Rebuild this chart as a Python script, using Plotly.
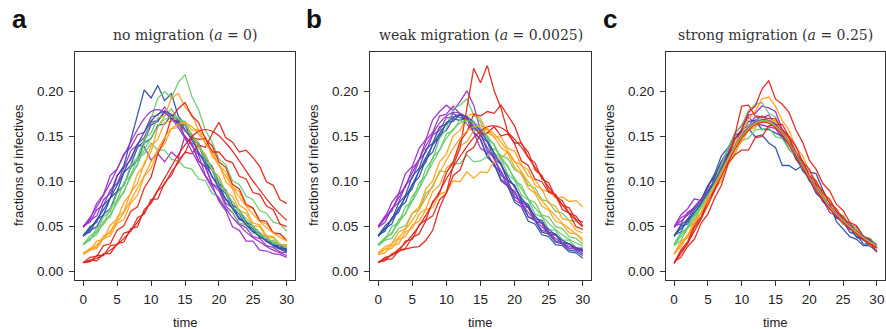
import plotly.graph_objects as go

T = list(range(31))

COLORS = {"purple": "#9a33c8", "blue": "#3152a8", "green": "#6acb70", "orange": "#ffa31c", "red": "#e2271f"}
ORDER = ["purple", "blue", "green", "orange", "red"]

PANEL_TITLES = ["no migration (<i>a</i> = 0)", "weak migration (<i>a</i> = 0.0025)", "strong migration (<i>a</i> = 0.25)"]
PANEL_LETTERS = ["a", "b", "c"]
X_TICKS = [0, 5, 10, 15, 20, 25, 30]
Y_TICKS = [0.00, 0.05, 0.10, 0.15, 0.20]

# ---------------- panel a: no migration ----------------
A_PURPLE_SMOOTH = [0.050,0.060,0.072,0.085,0.099,0.114,0.129,0.144,0.158,0.170,0.178,0.180,0.177,0.170,0.160,0.148,0.134,0.120,0.106,0.093,0.081,0.070,0.060,0.052,0.044,0.038,0.033,0.028,0.024,0.021,0.018]
A_BLUE_SMOOTH = [0.040,0.048,0.058,0.069,0.082,0.096,0.111,0.126,0.141,0.155,0.167,0.175,0.178,0.175,0.168,0.158,0.146,0.133,0.119,0.106,0.093,0.081,0.070,0.060,0.052,0.045,0.039,0.034,0.029,0.025,0.022]
A_GREEN_SMOOTH = [0.030,0.036,0.044,0.053,0.064,0.076,0.090,0.105,0.120,0.135,0.149,0.161,0.169,0.172,0.170,0.163,0.153,0.141,0.128,0.115,0.102,0.089,0.078,0.068,0.059,0.051,0.044,0.038,0.033,0.030,0.027]
A_ORANGE_SMOOTH = [0.020,0.024,0.030,0.037,0.045,0.055,0.066,0.079,0.093,0.107,0.122,0.136,0.149,0.159,0.164,0.165,0.161,0.153,0.143,0.131,0.118,0.106,0.094,0.083,0.073,0.064,0.056,0.049,0.043,0.038,0.034]
A_RED_SMOOTH = [0.010,0.012,0.015,0.019,0.024,0.030,0.037,0.045,0.055,0.066,0.078,0.091,0.104,0.117,0.130,0.141,0.150,0.156,0.158,0.156,0.151,0.143,0.134,0.123,0.112,0.101,0.091,0.081,0.072,0.064,0.057]

A_PURPLE_RUNS = [
    [0.050,0.058,0.076,0.086,0.107,0.114,0.131,0.138,0.152,0.155,0.172,0.174,0.183,0.171,0.167,0.149,0.142,0.123,0.117,0.098,0.093,0.076,0.071,0.058,0.055,0.044,0.042,0.033,0.031,0.025,0.024],
    [0.049,0.057,0.062,0.080,0.087,0.107,0.115,0.134,0.141,0.139,0.124,0.131,0.122,0.133,0.126,0.151,0.140,0.130,0.107,0.096,0.078,0.068,0.050,0.046,0.034,0.034,0.024,0.023,0.020,0.019,0.016],
    [0.051,0.055,0.069,0.074,0.091,0.098,0.116,0.124,0.142,0.149,0.166,0.168,0.177,0.170,0.165,0.150,0.143,0.123,0.116,0.097,0.090,0.073,0.066,0.053,0.049,0.039,0.037,0.029,0.027,0.022,0.021],
]
A_BLUE_RUNS = [
    [0.040,0.050,0.055,0.074,0.082,0.106,0.118,0.146,0.175,0.202,0.193,0.207,0.190,0.198,0.173,0.163,0.148,0.141,0.121,0.113,0.094,0.087,0.070,0.064,0.052,0.048,0.038,0.036,0.029,0.027,0.023],
    [0.041,0.044,0.058,0.063,0.082,0.089,0.110,0.118,0.138,0.145,0.163,0.167,0.179,0.169,0.166,0.156,0.152,0.131,0.124,0.105,0.097,0.080,0.074,0.058,0.056,0.044,0.043,0.034,0.032,0.026,0.026],
    [0.039,0.046,0.050,0.064,0.070,0.089,0.096,0.116,0.124,0.143,0.148,0.163,0.164,0.174,0.163,0.163,0.149,0.143,0.125,0.117,0.098,0.091,0.074,0.069,0.055,0.051,0.040,0.039,0.030,0.029,0.024],
]
A_GREEN_RUNS = [
    [0.030,0.037,0.041,0.056,0.061,0.080,0.088,0.108,0.118,0.142,0.170,0.193,0.200,0.193,0.210,0.219,0.195,0.180,0.157,0.144,0.125,0.119,0.101,0.097,0.084,0.080,0.068,0.065,0.055,0.053,0.045],
    [0.031,0.035,0.049,0.053,0.071,0.079,0.099,0.107,0.126,0.131,0.143,0.135,0.135,0.125,0.123,0.116,0.114,0.103,0.101,0.087,0.083,0.070,0.066,0.054,0.052,0.043,0.042,0.034,0.035,0.029,0.030],
    [0.030,0.040,0.045,0.061,0.067,0.087,0.096,0.118,0.127,0.148,0.154,0.171,0.173,0.181,0.169,0.167,0.149,0.142,0.123,0.115,0.095,0.089,0.071,0.067,0.053,0.050,0.040,0.039,0.031,0.031,0.027],
]
A_ORANGE_RUNS = [
    [0.020,0.026,0.027,0.040,0.043,0.060,0.067,0.088,0.098,0.121,0.133,0.161,0.173,0.193,0.198,0.183,0.175,0.157,0.150,0.128,0.120,0.100,0.092,0.074,0.069,0.054,0.052,0.040,0.039,0.030,0.030],
    [0.021,0.024,0.034,0.036,0.052,0.058,0.077,0.087,0.109,0.118,0.140,0.147,0.166,0.167,0.171,0.157,0.153,0.137,0.131,0.113,0.106,0.088,0.084,0.068,0.065,0.051,0.050,0.038,0.038,0.030,0.029],
    [0.019,0.024,0.026,0.037,0.040,0.054,0.058,0.076,0.085,0.106,0.115,0.134,0.142,0.159,0.160,0.167,0.157,0.158,0.142,0.135,0.118,0.111,0.094,0.089,0.073,0.070,0.056,0.053,0.043,0.042,0.036],
]
A_RED_RUNS = [
    [0.010,0.013,0.012,0.020,0.020,0.031,0.033,0.048,0.050,0.069,0.076,0.090,0.097,0.111,0.121,0.133,0.131,0.141,0.138,0.153,0.166,0.149,0.144,0.133,0.135,0.127,0.117,0.100,0.096,0.080,0.076],
    [0.010,0.011,0.018,0.018,0.029,0.030,0.043,0.045,0.060,0.064,0.080,0.081,0.099,0.107,0.124,0.132,0.149,0.147,0.148,0.133,0.133,0.124,0.121,0.106,0.103,0.088,0.086,0.073,0.069,0.053,0.050],
    [0.010,0.016,0.017,0.029,0.031,0.046,0.051,0.067,0.072,0.093,0.105,0.131,0.147,0.171,0.181,0.188,0.173,0.166,0.147,0.140,0.122,0.116,0.097,0.092,0.075,0.071,0.057,0.056,0.043,0.042,0.034],
]

# ---------------- panel b: weak migration ----------------
B_PURPLE_SMOOTH = [0.050,0.059,0.070,0.082,0.096,0.110,0.125,0.140,0.153,0.165,0.173,0.177,0.176,0.171,0.162,0.151,0.138,0.125,0.112,0.099,0.087,0.076,0.066,0.057,0.050,0.043,0.037,0.032,0.028,0.025,0.022]
B_BLUE_SMOOTH = [0.040,0.048,0.058,0.070,0.083,0.097,0.112,0.127,0.141,0.154,0.164,0.171,0.174,0.172,0.166,0.156,0.145,0.132,0.119,0.106,0.094,0.082,0.072,0.062,0.054,0.047,0.041,0.035,0.031,0.027,0.024]
B_GREEN_SMOOTH = [0.030,0.036,0.044,0.054,0.065,0.078,0.092,0.107,0.121,0.135,0.148,0.158,0.165,0.168,0.166,0.160,0.151,0.140,0.128,0.116,0.104,0.092,0.081,0.071,0.062,0.054,0.047,0.041,0.036,0.032,0.029]
B_ORANGE_SMOOTH = [0.020,0.025,0.031,0.038,0.047,0.057,0.069,0.082,0.096,0.110,0.124,0.137,0.148,0.156,0.161,0.162,0.159,0.153,0.144,0.134,0.123,0.111,0.100,0.089,0.079,0.070,0.062,0.054,0.048,0.042,0.037]
B_RED_SMOOTH = [0.010,0.014,0.019,0.025,0.032,0.041,0.051,0.063,0.076,0.089,0.103,0.116,0.128,0.139,0.149,0.156,0.161,0.162,0.160,0.155,0.147,0.138,0.127,0.116,0.105,0.094,0.084,0.074,0.065,0.057,0.050]

B_PURPLE_RUNS = [
    [0.051,0.060,0.077,0.087,0.109,0.117,0.137,0.147,0.169,0.178,0.185,0.179,0.189,0.201,0.185,0.157,0.149,0.129,0.121,0.102,0.096,0.078,0.072,0.057,0.054,0.041,0.041,0.032,0.031,0.025,0.024],
    [0.050,0.062,0.067,0.086,0.094,0.115,0.124,0.146,0.155,0.173,0.175,0.184,0.175,0.172,0.155,0.147,0.128,0.120,0.103,0.097,0.080,0.075,0.061,0.057,0.046,0.044,0.034,0.032,0.026,0.025,0.020],
    [0.049,0.055,0.070,0.077,0.096,0.104,0.124,0.133,0.152,0.157,0.171,0.172,0.175,0.164,0.155,0.137,0.132,0.117,0.111,0.094,0.090,0.074,0.071,0.056,0.054,0.042,0.041,0.032,0.031,0.026,0.026],
]
B_BLUE_RUNS = [
    [0.040,0.051,0.058,0.076,0.085,0.106,0.115,0.136,0.143,0.161,0.164,0.176,0.171,0.170,0.155,0.147,0.127,0.120,0.101,0.095,0.077,0.072,0.056,0.053,0.041,0.039,0.030,0.029,0.022,0.021,0.015],
    [0.041,0.045,0.060,0.066,0.084,0.092,0.113,0.122,0.142,0.149,0.166,0.167,0.175,0.168,0.167,0.151,0.144,0.126,0.119,0.101,0.096,0.079,0.075,0.059,0.057,0.044,0.042,0.032,0.031,0.024,0.024],
    [0.039,0.048,0.053,0.071,0.077,0.097,0.105,0.125,0.133,0.152,0.157,0.170,0.168,0.172,0.159,0.154,0.134,0.127,0.107,0.101,0.083,0.078,0.061,0.057,0.044,0.042,0.033,0.031,0.024,0.023,0.018],
]
B_GREEN_RUNS = [
    [0.030,0.038,0.042,0.058,0.064,0.084,0.093,0.115,0.125,0.148,0.159,0.181,0.185,0.192,0.174,0.167,0.148,0.142,0.124,0.118,0.101,0.096,0.080,0.077,0.063,0.061,0.050,0.048,0.039,0.037,0.031],
    [0.029,0.035,0.037,0.048,0.051,0.065,0.069,0.087,0.094,0.112,0.111,0.120,0.120,0.130,0.122,0.123,0.128,0.137,0.129,0.126,0.113,0.110,0.096,0.093,0.080,0.078,0.067,0.065,0.057,0.056,0.050],
    [0.031,0.036,0.050,0.055,0.072,0.079,0.099,0.107,0.127,0.135,0.153,0.157,0.169,0.164,0.166,0.153,0.149,0.132,0.126,0.108,0.102,0.085,0.080,0.064,0.061,0.047,0.046,0.035,0.035,0.027,0.027],
]
B_ORANGE_RUNS = [
    [0.020,0.025,0.026,0.036,0.039,0.052,0.056,0.069,0.071,0.086,0.089,0.101,0.100,0.111,0.104,0.111,0.110,0.123,0.126,0.133,0.122,0.119,0.106,0.102,0.091,0.089,0.082,0.083,0.078,0.079,0.072],
    [0.021,0.028,0.031,0.044,0.048,0.065,0.072,0.092,0.101,0.122,0.131,0.151,0.157,0.173,0.176,0.170,0.155,0.150,0.138,0.132,0.116,0.108,0.093,0.087,0.073,0.068,0.056,0.053,0.043,0.042,0.034],
    [0.019,0.021,0.029,0.031,0.044,0.048,0.064,0.070,0.089,0.096,0.115,0.122,0.140,0.144,0.157,0.155,0.159,0.149,0.150,0.137,0.134,0.118,0.113,0.096,0.092,0.076,0.073,0.059,0.057,0.046,0.043],
]
B_RED_RUNS = [
    [0.010,0.016,0.018,0.023,0.025,0.027,0.028,0.035,0.046,0.071,0.088,0.118,0.137,0.183,0.226,0.210,0.229,0.201,0.182,0.155,0.142,0.123,0.118,0.103,0.100,0.088,0.086,0.074,0.071,0.058,0.055],
    [0.011,0.012,0.020,0.022,0.034,0.036,0.052,0.058,0.078,0.087,0.110,0.122,0.145,0.155,0.175,0.173,0.178,0.176,0.185,0.173,0.162,0.142,0.133,0.113,0.107,0.090,0.085,0.069,0.065,0.050,0.047],
    [0.010,0.014,0.014,0.023,0.026,0.038,0.042,0.057,0.062,0.080,0.087,0.107,0.113,0.133,0.138,0.153,0.154,0.161,0.151,0.153,0.143,0.143,0.127,0.121,0.103,0.099,0.083,0.079,0.065,0.062,0.051],
]

# ---------------- panel c: strong migration ----------------
C_PURPLE_SMOOTH = [0.050,0.056,0.063,0.071,0.080,0.090,0.101,0.114,0.127,0.139,0.151,0.160,0.166,0.169,0.168,0.163,0.155,0.144,0.132,0.119,0.106,0.094,0.083,0.073,0.065,0.058,0.051,0.045,0.039,0.034,0.030]
C_BLUE_SMOOTH = [0.040,0.048,0.056,0.066,0.076,0.088,0.100,0.114,0.127,0.139,0.150,0.159,0.165,0.168,0.167,0.162,0.154,0.143,0.131,0.118,0.105,0.093,0.082,0.072,0.064,0.057,0.050,0.044,0.038,0.033,0.029]
C_GREEN_SMOOTH = [0.030,0.039,0.049,0.060,0.072,0.085,0.098,0.112,0.126,0.139,0.150,0.159,0.165,0.168,0.167,0.162,0.154,0.143,0.131,0.118,0.105,0.093,0.082,0.072,0.064,0.057,0.050,0.044,0.038,0.033,0.029]
C_ORANGE_SMOOTH = [0.020,0.030,0.041,0.053,0.066,0.080,0.095,0.110,0.125,0.138,0.149,0.158,0.164,0.167,0.166,0.161,0.153,0.142,0.130,0.117,0.104,0.092,0.081,0.071,0.063,0.056,0.049,0.043,0.037,0.032,0.028]
C_RED_SMOOTH = [0.010,0.020,0.032,0.045,0.059,0.074,0.090,0.106,0.122,0.136,0.148,0.157,0.163,0.166,0.165,0.160,0.152,0.141,0.129,0.116,0.103,0.091,0.080,0.070,0.062,0.055,0.048,0.042,0.036,0.031,0.027]

C_PURPLE_RUNS = [
    [0.050,0.063,0.070,0.081,0.079,0.094,0.098,0.120,0.131,0.147,0.158,0.174,0.176,0.184,0.182,0.178,0.158,0.150,0.134,0.122,0.106,0.096,0.083,0.078,0.066,0.060,0.050,0.049,0.038,0.035,0.028],
    [0.051,0.053,0.066,0.071,0.081,0.086,0.104,0.110,0.130,0.141,0.158,0.162,0.172,0.171,0.174,0.163,0.158,0.142,0.131,0.115,0.103,0.087,0.080,0.066,0.062,0.053,0.050,0.039,0.038,0.029,0.028],
    [0.049,0.060,0.064,0.072,0.080,0.095,0.106,0.122,0.136,0.154,0.162,0.172,0.164,0.163,0.161,0.159,0.148,0.143,0.125,0.115,0.102,0.094,0.078,0.072,0.060,0.056,0.047,0.045,0.035,0.034,0.027],
]
C_BLUE_RUNS = [
    [0.040,0.051,0.053,0.069,0.077,0.095,0.109,0.129,0.138,0.152,0.155,0.159,0.150,0.152,0.143,0.138,0.118,0.118,0.113,0.118,0.111,0.109,0.091,0.076,0.056,0.048,0.039,0.036,0.029,0.029,0.022],
    [0.041,0.044,0.059,0.063,0.075,0.085,0.104,0.116,0.130,0.141,0.152,0.158,0.168,0.158,0.158,0.154,0.151,0.136,0.129,0.112,0.105,0.088,0.082,0.069,0.065,0.053,0.049,0.038,0.036,0.028,0.027],
    [0.039,0.052,0.058,0.072,0.080,0.096,0.105,0.123,0.132,0.148,0.155,0.167,0.168,0.173,0.167,0.164,0.151,0.143,0.126,0.117,0.101,0.093,0.078,0.072,0.060,0.056,0.044,0.041,0.031,0.030,0.023],
]
C_GREEN_RUNS = [
    [0.030,0.042,0.050,0.064,0.071,0.090,0.101,0.120,0.138,0.154,0.163,0.179,0.186,0.188,0.176,0.172,0.156,0.148,0.132,0.123,0.105,0.096,0.083,0.078,0.064,0.061,0.052,0.051,0.039,0.037,0.029],
    [0.029,0.035,0.048,0.056,0.072,0.080,0.098,0.106,0.124,0.132,0.146,0.148,0.158,0.158,0.160,0.150,0.148,0.136,0.130,0.115,0.106,0.091,0.085,0.071,0.066,0.056,0.052,0.042,0.040,0.031,0.030],
    [0.031,0.043,0.048,0.063,0.074,0.090,0.097,0.115,0.124,0.141,0.150,0.163,0.166,0.173,0.167,0.167,0.155,0.147,0.128,0.121,0.104,0.098,0.084,0.077,0.065,0.063,0.052,0.048,0.038,0.036,0.030],
]
C_ORANGE_RUNS = [
    [0.020,0.032,0.038,0.054,0.066,0.083,0.091,0.112,0.124,0.143,0.153,0.170,0.178,0.192,0.194,0.184,0.168,0.157,0.138,0.129,0.111,0.101,0.085,0.078,0.064,0.060,0.049,0.047,0.037,0.034,0.026],
    [0.021,0.027,0.041,0.049,0.066,0.074,0.092,0.101,0.120,0.130,0.149,0.157,0.167,0.166,0.168,0.161,0.156,0.140,0.131,0.116,0.106,0.090,0.083,0.069,0.064,0.053,0.051,0.041,0.039,0.029,0.027],
    [0.019,0.033,0.040,0.057,0.065,0.081,0.093,0.112,0.120,0.137,0.144,0.157,0.160,0.169,0.168,0.168,0.155,0.148,0.133,0.123,0.107,0.100,0.086,0.079,0.065,0.061,0.049,0.046,0.036,0.034,0.027],
]
C_RED_RUNS = [
    [0.010,0.023,0.031,0.049,0.059,0.079,0.092,0.114,0.128,0.148,0.158,0.177,0.184,0.203,0.212,0.192,0.186,0.177,0.158,0.144,0.124,0.114,0.098,0.090,0.075,0.068,0.055,0.051,0.039,0.036,0.026],
    [0.011,0.016,0.028,0.036,0.054,0.064,0.082,0.096,0.120,0.130,0.135,0.135,0.149,0.150,0.162,0.163,0.164,0.150,0.140,0.122,0.114,0.097,0.090,0.076,0.070,0.058,0.054,0.043,0.040,0.030,0.029],
    [0.009,0.024,0.033,0.052,0.061,0.080,0.091,0.112,0.126,0.152,0.184,0.185,0.173,0.172,0.170,0.170,0.158,0.149,0.131,0.123,0.107,0.101,0.087,0.081,0.067,0.061,0.048,0.045,0.035,0.032,0.022],
]

PANELS = [
    {"smooth": [A_PURPLE_SMOOTH, A_BLUE_SMOOTH, A_GREEN_SMOOTH, A_ORANGE_SMOOTH, A_RED_SMOOTH],
     "runs": [A_PURPLE_RUNS, A_BLUE_RUNS, A_GREEN_RUNS, A_ORANGE_RUNS, A_RED_RUNS]},
    {"smooth": [B_PURPLE_SMOOTH, B_BLUE_SMOOTH, B_GREEN_SMOOTH, B_ORANGE_SMOOTH, B_RED_SMOOTH],
     "runs": [B_PURPLE_RUNS, B_BLUE_RUNS, B_GREEN_RUNS, B_ORANGE_RUNS, B_RED_RUNS]},
    {"smooth": [C_PURPLE_SMOOTH, C_BLUE_SMOOTH, C_GREEN_SMOOTH, C_ORANGE_SMOOTH, C_RED_SMOOTH],
     "runs": [C_PURPLE_RUNS, C_BLUE_RUNS, C_GREEN_RUNS, C_ORANGE_RUNS, C_RED_RUNS]},
]

W, H = 886, 329
BOX_X = [(75, 295), (370, 591), (666, 885)]
BOX_Y = (52, 280)

fig = go.Figure()
annotations = []
layout = {}

for i, panel in enumerate(PANELS):
    ax = "" if i == 0 else str(i + 1)
    xref, yref = "x" + ax, "y" + ax
    for ci, cname in enumerate(ORDER):
        for run in panel["runs"][ci]:
            fig.add_trace(go.Scatter(x=T, y=run, mode="lines", xaxis=xref, yaxis=yref,
                                     line=dict(color=COLORS[cname], width=1.3), opacity=0.95,
                                     showlegend=False, hoverinfo="skip"))
    for ci, cname in enumerate(ORDER):
        fig.add_trace(go.Scatter(x=T, y=panel["smooth"][ci], mode="lines", xaxis=xref, yaxis=yref,
                                 line=dict(color=COLORS[cname], width=1.2, shape="spline"),
                                 showlegend=False, hoverinfo="skip"))
    x0, x1 = BOX_X[i]
    axcommon = dict(showgrid=False, zeroline=False, showline=True, mirror=True, linecolor="#333",
                    linewidth=1, ticks="outside", ticklen=5, tickcolor="#333",
                    tickfont=dict(family="Liberation Sans, Arial", size=13.5, color="#222"))
    layout["xaxis" + ax] = dict(axcommon, domain=[x0 / W, x1 / W], range=[-1.2, 31.2],
                                tickvals=X_TICKS, anchor=yref, ticklabelstandoff=2)
    layout["yaxis" + ax] = dict(axcommon, domain=[1 - BOX_Y[1] / H, 1 - BOX_Y[0] / H],
                                range=[-0.0092, 0.2441], tickvals=Y_TICKS, tickformat=".2f",
                                anchor=xref, ticklabelstandoff=3)
    cx = (x0 + x1) / 2
    annotations.append(dict(text=PANEL_TITLES[i], x=cx / W, y=1 - 35 / H, xref="paper", yref="paper",
                            showarrow=False, xanchor="center", yanchor="middle",
                            font=dict(family="DejaVu Serif", size=14, color="#333")))
    annotations.append(dict(text="time", x=cx / W, y=1 - 322 / H, xref="paper", yref="paper",
                            showarrow=False, xanchor="center", yanchor="middle",
                            font=dict(family="Liberation Sans, Arial", size=13, color="#222")))
    annotations.append(dict(text="fractions of infectives", x=(x0 - 57) / W, y=1 - 165 / H,
                            xref="paper", yref="paper", showarrow=False, textangle=-90,
                            xanchor="center", yanchor="middle",
                            font=dict(family="Liberation Sans, Arial", size=13, color="#222")))
    annotations.append(dict(text="<b>" + PANEL_LETTERS[i] + "</b>", x=(x0 - 56) / W, y=1 - 19 / H,
                            xref="paper", yref="paper", showarrow=False, xanchor="center",
                            yanchor="middle",
                            font=dict(family="Liberation Sans, Arial", size=26, color="#111")))

fig.update_layout(width=W, height=H, margin=dict(l=0, r=0, t=0, b=0),
                  paper_bgcolor="white", plot_bgcolor="white", annotations=annotations, **layout)

fig.write_html("out.html")
